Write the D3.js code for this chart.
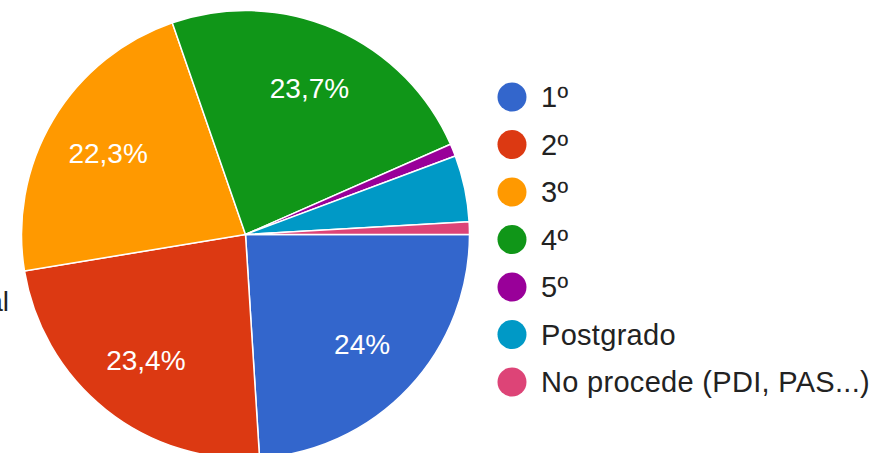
<!DOCTYPE html>
<html>
<head>
<meta charset="utf-8">
<script src="https://cdn.jsdelivr.net/npm/d3@7"></script>
<style>
  body { margin: 0; background: #fff; }
  svg text { font-family: Arial, "Liberation Sans", sans-serif; }
</style>
</head>
<body>
<svg id="chart"></svg>
<script>
// data
var categories = ["1º", "2º", "3º", "4º", "5º", "Postgrado", "No procede (PDI, PAS...)"];
var values = [24, 23.4, 22.3, 23.7, 0.9, 4.8, 0.9];
var sliceLabels = ["24%", "23,4%", "22,3%", "23,7%", "", "", ""];
var colors = ["#3366cc", "#dc3912", "#ff9900", "#109618", "#990099", "#0099c6", "#dd4477"];

var width = 873, height = 453;
var cx = 245.5, cy = 234.5, radius = 224;

var svg = d3.select("#chart")
  .attr("width", width)
  .attr("height", height);

// text cut off at the left edge, as in the original
svg.append("text")
  .attr("x", 9)
  .attr("y", 311)
  .attr("text-anchor", "end")
  .attr("font-size", "28px")
  .attr("fill", "#222")
  .text("Total");

var data = categories.map(function(c, i) {
  return { name: c, value: values[i], label: sliceLabels[i] };
});

var color = d3.scaleOrdinal()
  .domain(categories)
  .range(colors);

// pie starts at 3 o'clock and runs clockwise
var pie = d3.pie()
  .sort(null)
  .value(function(d) { return d.value; })
  .startAngle(Math.PI / 2)
  .endAngle(Math.PI / 2 + 2 * Math.PI);

var arc = d3.arc().innerRadius(0).outerRadius(radius);
var labelArc = d3.arc().innerRadius(radius * 0.714).outerRadius(radius * 0.714);

var plot = svg.append("g")
  .attr("transform", "translate(" + cx + "," + cy + ")");

var arcs = pie(data);

plot.selectAll("path")
  .data(arcs)
  .enter().append("path")
  .attr("d", arc)
  .attr("fill", function(d) { return color(d.data.name); })
  .attr("stroke", "#fff")
  .attr("stroke-width", 1.5);

plot.selectAll("text.slice-label")
  .data(arcs.filter(function(d) { return d.data.label; }))
  .enter().append("text")
  .attr("class", "slice-label")
  .attr("transform", function(d) { return "translate(" + labelArc.centroid(d) + ")"; })
  .attr("text-anchor", "middle")
  .attr("dy", "0.36em")
  .attr("font-size", "28px")
  .attr("fill", "#fff")
  .text(function(d) { return d.data.label; });

// legend
var legend = svg.append("g")
  .attr("transform", "translate(512,97)");

var item = legend.selectAll("g")
  .data(categories)
  .enter().append("g")
  .attr("transform", function(d, i) { return "translate(0," + (i * 47.5) + ")"; });

item.append("circle")
  .attr("r", 14.5)
  .attr("fill", function(d) { return color(d); });

item.append("text")
  .attr("x", 29)
  .attr("dy", "0.36em")
  .attr("font-size", "29px")
  .attr("letter-spacing", "0.3px")
  .attr("fill", "#222")
  .text(function(d) { return d; });
</script>
</body>
</html>
